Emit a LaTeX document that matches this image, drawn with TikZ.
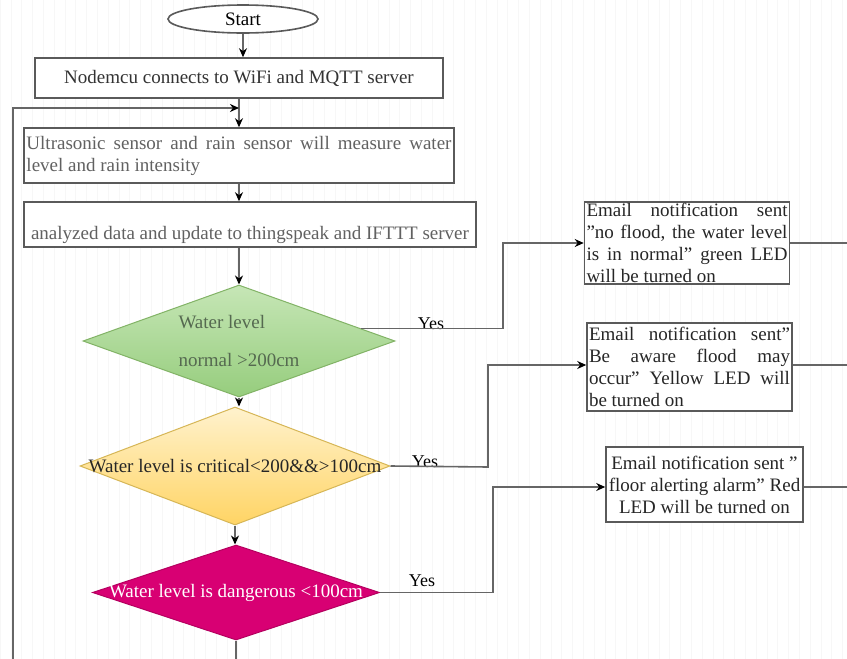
\documentclass[tikz,border=0pt]{standalone}
\usepackage{fontspec}
\setmainfont{Liberation Serif}
\usetikzlibrary{shapes.geometric,arrows.meta,calc}
\definecolor{lgray}{HTML}{666666}
\definecolor{bgray}{HTML}{5A5A5A}
\definecolor{gtop}{RGB}{198,230,182}
\definecolor{gbot}{RGB}{150,205,125}
\definecolor{gdraw}{HTML}{82B366}
\definecolor{ytop}{RGB}{255,242,205}
\definecolor{ybot}{RGB}{255,212,100}
\definecolor{ydraw}{HTML}{D6B656}
\definecolor{mag}{HTML}{D80073}
\definecolor{magdraw}{HTML}{B5005F}
\definecolor{gtext}{RGB}{85,105,80}
\tikzset{
  base/.style={font=\fontsize{19}{22}\selectfont},
  box/.style={base, draw=bgray, line width=1.6pt, fill=white, inner sep=1.5pt},
  dia/.style={shape=diamond, inner sep=0pt, line width=1pt},
  conn/.style={draw=lgray, line width=1.6pt},
  arr/.style={conn, -{Stealth[length=9pt,width=8pt,color=black]}},
  lbl/.style={base, font=\fontsize{18}{20}\selectfont, inner sep=1pt}
}
\begin{document}
\begin{tikzpicture}[x=1pt,y=-1pt]
\useasboundingbox (0,0) rectangle (847,659);
\fill[white] (0,0) rectangle (847,659);
\draw[gray!6, line width=0.5pt, step=10.8] (0,0) grid (847,659);

% nodes
\node[box, shape=ellipse, minimum width=150, minimum height=28] (start) at (243,19) {Start};
\node[box, minimum width=408, minimum height=40, text=black!80] (n1) at (239,78) {Nodemcu connects to WiFi and MQTT server};
\node[box, minimum width=430, minimum height=55, text width=425, align=justify, text=black!62] (n2) at (239,155.5)
  {Ultrasonic sensor and rain sensor will measure water\linebreak level and rain intensity};
\node[box, minimum width=452, inner ysep=0pt, text height=37pt, text depth=8pt, text=black!62] (n3) at (250,224.5)
  {analyzed data and update to thingspeak and IFTTT server};

\node[dia, draw=gdraw, top color=gtop, bottom color=gbot, minimum width=312, minimum height=112] (d1) at (239,341) {};
\node[base, align=left, text=gtext, inner sep=0pt] (d1t) at (239,341) {Water level\\[16pt]normal >200cm};

\node[dia, draw=ydraw, top color=ytop, bottom color=ybot, minimum width=310, minimum height=118] (d2) at (235,466) {};
\node[base, text=black!85, inner sep=0pt] (d2t) at (235,466) {Water level is critical<200\&\&>100cm};

\node[dia, draw=magdraw, fill=mag, minimum width=287, minimum height=95] (d3) at (236,592.5) {};
\node[base, text=white, inner sep=0pt] (d3t) at (236,593) {Water level is dangerous <100cm};

\node[box, minimum width=205, minimum height=80, text width=201, align=justify, text=black!85] (b1) at (687,243)
  {Email notification sent\linebreak "no flood, the water level\linebreak is in normal" green LED\linebreak will be turned on};
\node[box, minimum width=205, minimum height=88, text width=201, align=justify, text=black!85] (b2) at (689.5,367)
  {Email notification sent"\linebreak Be aware flood may\linebreak occur" Yellow LED will\linebreak be turned on};
\node[box, minimum width=197, minimum height=75, inner sep=0pt, align=center, text=black!85] (b3) at (704.5,484.5)
  {Email notification sent "\\ floor alerting alarm" Red\\ LED will be turned on};

\node[lbl, anchor=south] (y1) at (431,331) {Yes};
\node[lbl, anchor=south] (y2) at (425,469) {Yes};
\node[lbl, anchor=south] (y3) at (422,588) {Yes};

% coordinates
\coordinate (k1) at (503,329);
\coordinate (k2) at (488,467);
\coordinate (k3) at (493,592.5);
\coordinate (e1) at (847,243);
\coordinate (e2) at (847,365);
\coordinate (e3) at (847,487);
\coordinate (bot) at (236,659);
\coordinate (lp0) at (13,659);
\coordinate (lp1) at (13,108);
\coordinate (lpin) at (239,108);
\coordinate (d1y) at ($(d1.north)!0.78!(d1.east)$);

% connectors
\draw[arr] (start.south) -- (start.south |- n1.north);
\draw[arr] (n1.south) -- (n1.south |- n2.north);
\draw[arr] (lp0) -- (lp1) -- (lpin);
\draw[arr] (n2.south -| n1.south) -- (n1.south |- n3.north);
\draw[arr] (n3.south -| d1.north) -- (d1.north);
\draw[arr] (d1.south) -- (d1.south |- d2.north);
\draw[arr] (d2.south) -- (d2.south |- d3.north);
\draw[conn] (d3.south) -- (bot);

\draw[arr] (d1y) -- (d1y -| k1) -- (k1 |- b1.west) -- (b1.west);
\draw[arr] (d2.east) -- (k2) -- (k2 |- e2) -- (b2.west |- e2);
\draw[arr] (d3.east) -- (k3) -- (k3 |- e3) -- (b3.west |- e3);

\draw[conn] (b1.east) -- (e1);
\draw[conn] (b2.east |- e2) -- (e2);
\draw[conn] (b3.east |- e3) -- (e3);
\end{tikzpicture}
\end{document}
